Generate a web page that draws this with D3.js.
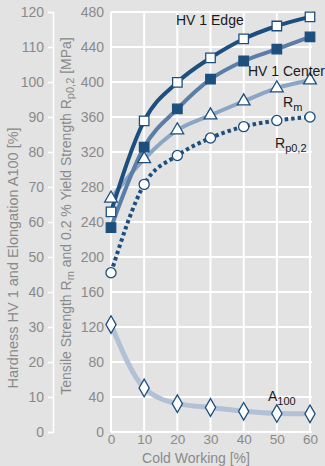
<!DOCTYPE html>
<html><head><meta charset="utf-8">
<script src="https://cdn.jsdelivr.net/npm/d3@7"></script>
<style>
html,body{margin:0;padding:0;background:#e3e3e3;}
svg{display:block;font-family:"Liberation Sans",Arial,sans-serif;}
</style></head>
<body><svg id="c" width="325" height="466"></svg>
<script>
const coldWorking = [0, 10, 20, 30, 40, 50, 60];
const hvEdge   = [62.9, 88.9, 99.9, 106.9, 112.3, 116.0, 118.6];
const hvCenter = [58.4, 81.4, 92.3, 100.8, 106.0, 109.4, 112.9];
const rm       = [267, 312, 345, 362, 378, 393, 402];
const rp02     = [182, 283, 316, 336, 349, 356, 360];
const a100     = [30.7, 12.6, 8.1, 7.0, 5.9, 5.3, 5.2];
const leftTicks  = [0, 10, 20, 30, 40, 50, 60, 70, 80, 90, 100, 110, 120];
const rightTicks = [0, 40, 80, 120, 160, 200, 240, 280, 320, 360, 400, 440, 480];
const xTicks = [0, 10, 20, 30, 40, 50, 60];

const svg = d3.select("#c");
const x = d3.scaleLinear().domain([0, 60]).range([111, 310]);
const y = d3.scaleLinear().domain([0, 120]).range([432, 12]);
const yM = d3.scaleLinear().domain([0, 480]).range([432, 12]);

const dark = "#1c4f7d", mid = "#5a7ea6", light = "#8ba5c4", pale = "#b2c1d5";
const txt = "#8a8a8a";
const ff = "Liberation Sans, Arial, sans-serif";

// grid
const g = svg.append("g");
g.selectAll(".h").data(leftTicks).join("line")
  .attr("x1", x(0)).attr("x2", 312).attr("y1", d => y(d)).attr("y2", d => y(d))
  .attr("stroke", "#fff").attr("stroke-width", 2);
g.selectAll(".v").data(xTicks).join("line")
  .attr("x1", d => x(d)).attr("x2", d => x(d)).attr("y1", y(120)).attr("y2", y(0))
  .attr("stroke", "#fff").attr("stroke-width", 2);

// left axis
const la = svg.append("g").attr("transform", "translate(53,0)")
  .call(d3.axisLeft(y).tickValues(leftTicks).tickSize(5).tickPadding(4));
la.select(".domain").attr("stroke", "#fff").attr("stroke-width", 1.5);
la.selectAll(".tick line").attr("stroke", "#fff").attr("stroke-width", 1.5);
la.selectAll("text").attr("fill", txt).attr("font-size", 14).attr("font-family", ff);

// right (MPa) labels
const ra = svg.append("g").attr("transform", "translate(104,0)")
  .call(d3.axisLeft(yM).tickValues(rightTicks).tickSize(0).tickPadding(0));
ra.select(".domain").remove();
ra.selectAll("text").attr("fill", txt).attr("font-size", 14).attr("font-family", ff);

// x axis labels
const xa = svg.append("g").attr("transform", "translate(0,434)")
  .call(d3.axisBottom(x).tickValues(xTicks).tickSize(0).tickPadding(0));
xa.select(".domain").remove();
xa.selectAll("text").attr("fill", txt).attr("font-size", 13.5).attr("font-family", ff);

svg.append("text").attr("x", 196).attr("y", 463).attr("text-anchor", "middle")
  .attr("fill", txt).attr("font-size", 14).text("Cold Working [%]");

// y titles
const t1 = svg.append("text").attr("transform", "translate(18,258) rotate(-90)")
  .attr("text-anchor", "middle").attr("fill", txt).attr("font-size", 14.5);
t1.append("tspan").text("Hardness HV 1 and Elongation A100 [%]");

const t2 = svg.append("text").attr("transform", "translate(71,216) rotate(-90)")
  .attr("text-anchor", "middle").attr("fill", txt).attr("font-size", 14);
t2.append("tspan").text("Tensile Strength R");
t2.append("tspan").attr("dy", 3).attr("font-size", 11).text("m");
t2.append("tspan").attr("dy", -3).text(" and 0.2 % Yield Strength R");
t2.append("tspan").attr("dy", 3).attr("font-size", 11).text("p0,2");
t2.append("tspan").attr("dy", -3).text(" [MPa]");

// lines
const curve = d3.curveMonotoneX;
function mkLine(ys) { return d3.line().x((d, i) => x(coldWorking[i])).y(d => ys(d)).curve(curve); }

svg.append("path").datum(a100).attr("d", mkLine(y)).attr("fill", "none").attr("stroke", pale).attr("stroke-width", 5);
svg.append("path").datum(rm).attr("d", mkLine(yM)).attr("fill", "none").attr("stroke", light).attr("stroke-width", 4);
svg.append("path").datum(rp02).attr("d", mkLine(yM)).attr("fill", "none").attr("stroke", dark).attr("stroke-width", 4).attr("stroke-dasharray", "3.5,3");
svg.append("path").datum(hvCenter).attr("d", mkLine(y)).attr("fill", "none").attr("stroke", mid).attr("stroke-width", 4);
svg.append("path").datum(hvEdge).attr("d", mkLine(y)).attr("fill", "none").attr("stroke", dark).attr("stroke-width", 4);

// markers
function markers(data, ys, type, size, fill) {
  svg.append("g").selectAll("path").data(data).join("path")
    .attr("transform", (d, i) => `translate(${x(coldWorking[i])},${ys(d)})`)
    .attr("d", d3.symbol().type(type).size(size))
    .attr("fill", fill).attr("stroke", dark).attr("stroke-width", 1.3);
}
markers(a100, y, d3.symbolDiamond, 90, "#fff");
markers(rm, yM, d3.symbolTriangle, 70, "#fff");
markers(rp02, yM, d3.symbolCircle, 80, "#fff");
markers(hvCenter, y, d3.symbolSquare, 90, dark);
markers(hvEdge, y, d3.symbolSquare, 90, "#fff");

// series labels
const lab = (xx, yy, main, sub) => {
  const t = svg.append("text").attr("x", xx).attr("y", yy).attr("fill", "#1a1a1a").attr("font-size", 14);
  t.append("tspan").text(main);
  if (sub) t.append("tspan").attr("dy", 4).attr("font-size", 11).text(sub);
};
lab(176, 25, "HV 1 Edge");
lab(248, 76, "HV 1 Center");
lab(283, 107, "R", "m");
lab(275, 148, "R", "p0,2");
lab(268, 401, "A", "100");
</script></body></html>
